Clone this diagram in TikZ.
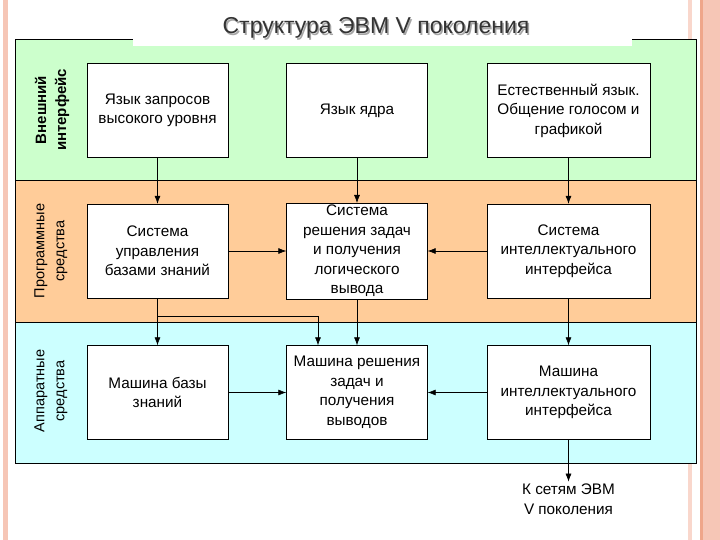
\documentclass[tikz,border=0pt]{standalone}
\usepackage{fontspec}
\setmainfont{Liberation Sans}
\usetikzlibrary{positioning,calc,arrows.meta}
\definecolor{zelen}{HTML}{CCFFCC}
\definecolor{oranzh}{HTML}{FFCC99}
\definecolor{goluboy}{HTML}{CCFFFF}
\definecolor{rozov}{HTML}{F6C6B6}
\definecolor{rozovtemn}{HTML}{EFA68A}
\tikzset{
  blok/.style={draw, fill=white, minimum width=141pt, minimum height=94pt,
    align=center, inner sep=2pt, font=\fontsize{15.3}{19.5}\selectfont},
  polosa/.style={draw, line width=.6pt},
  sbok/.style={rotate=90, align=center, font=\fontsize{14.5}{20}\selectfont},
  strel/.style={-{Latex[length=8pt,width=6pt]}, line width=.6pt},
}
\begin{document}
\begin{tikzpicture}[x=1pt, y=-1pt]
\useasboundingbox (0,0) rectangle (720,540);
% slide decoration
\fill[rozov] (3,0) rectangle (8,540);
\fill[rozov!70] (688,0) rectangle (692,540);
\fill[rozovtemn] (700,0) rectangle (703,540);
\fill[rozov] (703,0) rectangle (720,540);
% bands
\path[polosa, fill=zelen] (15,39) rectangle (696,180);
\path[polosa, fill=oranzh] (15,180) rectangle (696,322);
\path[polosa, fill=goluboy] (15,322) rectangle (696,463);
% title
\fill[white] (133,18) rectangle (632,46);
\node[font=\fontsize{23}{25}\selectfont, text=gray!70] at (377.5,29.5) {Структура ЭВМ V поколения};
\node (zagl) [font=\fontsize{23}{25}\selectfont, text=black!80] at (376,28) {Структура ЭВМ V поколения};
% side labels
\node (vneshn) [sbok, font=\fontsize{15}{20}\bfseries] at (52,110) {Внешний\\интерфейс};
\node (progr) [sbok] at (51,251) {Программные\\средства};
\node (appar) [sbok] at (51,391) {Аппаратные\\средства};
% boxes
\node (a1) [blok] at (157.5,110.5) {Язык запросов\\высокого уровня};
\node (a2) [blok] at (357,110.5) {Язык ядра};
\node (a3) [blok, minimum width=163pt] at (568.5,110.5) {Естественный язык.\\Общение голосом и\\графикой};
\node (b1) [blok] at (157.5,251) {Система\\управления\\базами знаний};
\node (b2) [blok] at (357,251) {Система\\решения задач\\и получения\\логического\\вывода};
\node (b3) [blok, minimum width=163pt] at (568.5,251) {Система\\интеллектуального\\интерфейса};
\node (c1) [blok] at (157.5,392.5) {Машина базы\\знаний};
\node (c2) [blok] at (357,392.5) {Машина решения\\задач и\\получения\\выводов};
\node (c3) [blok, minimum width=163pt] at (568.5,392.5) {Машина\\интеллектуального\\интерфейса};
\node (vyhod) [align=center, font=\fontsize{15.3}{19.5}\selectfont, inner sep=2pt] at (568.5,499) {К сетям ЭВМ\\V поколения};
% arrows
\foreach \i in {1,2,3}{
  \draw[strel] (a\i) -- (b\i);
  \draw[strel] (b\i) -- (c\i);
}
\draw[strel] (b1) -- (b2);
\draw[strel] (b3) -- (b2);
\draw[strel] (c1) -- (c2);
\draw[strel] (c3) -- (c2);
\coordinate (razv) at (157.5,316);
\draw[strel] (razv) -| ([xshift=-39pt]c2.north);
\draw[strel] (c3) -- (vyhod);
\end{tikzpicture}
\end{document}
